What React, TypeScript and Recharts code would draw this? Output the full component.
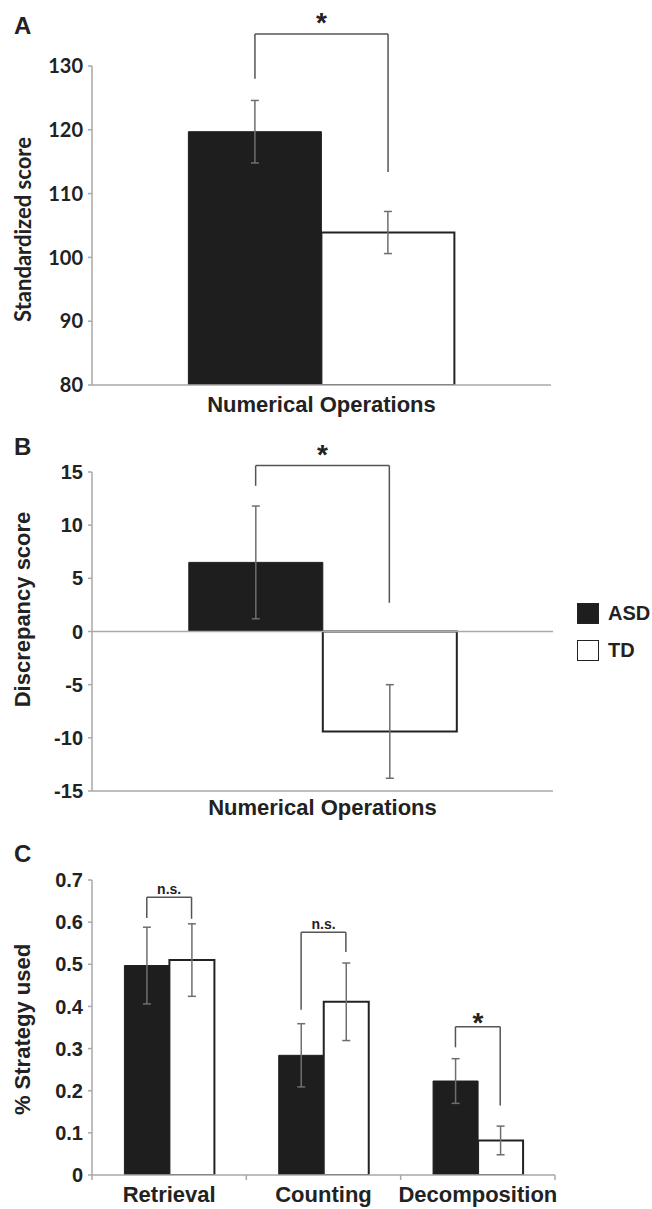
import { BarChart, Bar, XAxis, YAxis, ErrorBar, ReferenceLine, Legend } from "recharts"

const ARIAL = "'Liberation Sans', Arial, sans-serif"
const CALIBRI = "Lato, 'Liberation Sans', sans-serif"
const INK = "#222222"
const AXIS = "#a9a9a9"
const WHISKER = "#6e6e6e"
const BRACKET = "#555555"
const ASD_FILL = "#1e1e1e"
const TD_FILL = "#ffffff"
const GAP = 0.21

// A - standardized score
const opsCategories = ["Numerical Operations"]
const standardAsd = [119.7]
const standardAsdErr = [4.9]
const standardTd = [103.9]
const standardTdErr = [3.3]
const standardTicks = [80, 90, 100, 110, 120, 130]
const standardBrackets = [{ top: 135, left: 128, right: 113.4, mark: "*" }]

// B - discrepancy score
const discrepancyAsd = [6.5]
const discrepancyAsdErr = [5.3]
const discrepancyTd = [-9.4]
const discrepancyTdErr = [4.4]
const discrepancyTicks = [-15, -10, -5, 0, 5, 10, 15]
const discrepancyBrackets = [{ top: 15.6, left: 13.7, right: 2.7, mark: "*" }]

// C - strategy use
const strategies = ["Retrieval", "Counting", "Decomposition"]
const strategyAsd = [0.497, 0.284, 0.223]
const strategyAsdErr = [0.091, 0.075, 0.053]
const strategyTd = [0.51, 0.411, 0.082]
const strategyTdErr = [0.086, 0.092, 0.034]
const strategyTicks = [0, 0.1, 0.2, 0.3, 0.4, 0.5, 0.6, 0.7]
const strategyBrackets = [
  { top: 0.659, left: 0.61, right: 0.608, mark: "n.s." },
  { top: 0.576, left: 0.392, right: 0.529, mark: "n.s." },
  { top: 0.352, left: 0.303, right: 0.165, mark: "*" },
]

type Bracket = { top: number; left: number; right: number; mark: string }

// slot = middle of the category on a 0..n numeric axis
function buildRows(names: string[], asd: number[], asdErr: number[], td: number[], tdErr: number[]) {
  return names.map((name, i) => ({ name, slot: i + 0.5, asd: asd[i], asdErr: asdErr[i], td: td[i], tdErr: tdErr[i] }))
}

function CategoryTick(props: any) {
  const { x, y, payload, names, gap, boundaries } = props
  const v = payload.value
  if (Number.isInteger(v)) {
    if (!boundaries) return <g />
    return <line x1={x} y1={y} x2={x} y2={y + 5} stroke={AXIS} strokeWidth={1.5} />
  }
  return (
    <text x={x} y={y + gap + 16} textAnchor="middle" fill={INK} fontSize={22} fontWeight={700} fontFamily={ARIAL}>
      {names[Math.floor(v)]}
    </text>
  )
}

function YTitle(props: any) {
  const { viewBox, text, cx, shift, family } = props
  const x = viewBox.x + cx
  const y = viewBox.y + viewBox.height / 2 + shift
  return (
    <text
      x={x}
      y={y}
      transform={`rotate(-90 ${x} ${y})`}
      textAnchor="middle"
      dominantBaseline="central"
      fill={INK}
      fontSize={22}
      fontWeight={700}
      fontFamily={family}
    >
      {text}
    </text>
  )
}

function LegendBoxes({ payload }: any) {
  return (
    <div style={{ display: "flex", flexDirection: "column", gap: 15 }}>
      {(payload || []).map((e: any) => (
        <div
          key={e.value}
          style={{ display: "flex", alignItems: "center", gap: 9, height: 22, fontFamily: ARIAL, fontWeight: 700, fontSize: 20, color: INK }}
        >
          <span
            style={{
              display: "inline-block",
              width: 20,
              height: 19,
              background: e.value === "ASD" ? ASD_FILL : TD_FILL,
              border: `1.5px solid ${INK}`,
            }}
          />
          {e.value}
        </div>
      ))}
    </div>
  )
}

function bracketLines(list: Bracket[], markOffset: number) {
  const half = (1 - 2 * GAP) / 4
  return list.flatMap((s, i) => {
    const l = i + GAP + half
    const r = i + 1 - GAP - half
    const star = s.mark === "*"
    return [
      <ReferenceLine key={`l${i}`} xAxisId="pos" ifOverflow="visible" stroke={BRACKET} strokeWidth={1.5}
        segment={[{ x: l, y: s.left }, { x: l, y: s.top }]} />,
      <ReferenceLine key={`t${i}`} xAxisId="pos" ifOverflow="visible" stroke={BRACKET} strokeWidth={1.5}
        segment={[{ x: l, y: s.top }, { x: r, y: s.top }]}
        label={{
          value: s.mark,
          position: "top",
          offset: star ? markOffset : 3,
          fill: INK,
          fontSize: star ? 28 : 14,
          fontWeight: 700,
          fontFamily: ARIAL,
        }} />,
      <ReferenceLine key={`r${i}`} xAxisId="pos" ifOverflow="visible" stroke={BRACKET} strokeWidth={1.5}
        segment={[{ x: r, y: s.right }, { x: r, y: s.top }]} />,
    ]
  })
}

type PanelProps = {
  top: number
  height: number
  margin: { top: number; right: number; bottom: number; left: number }
  axisHeight: number
  names: string[]
  rows: any[]
  domain: [number, number]
  ticks: number[]
  tickFont: string
  title: string
  titleFont: string
  titleShift: number
  brackets: Bracket[]
  markOffset: number
  labelGap: number
  boundaries?: boolean
  zeroLine?: boolean
  legend?: boolean
}

function Panel(p: PanelProps) {
  const n = p.names.length
  const posTicks = p.boundaries
    ? Array.from({ length: 2 * n + 1 }, (_, k) => k / 2)
    : p.names.map((_, i) => i + 0.5)
  return (
    <div style={{ position: "absolute", left: 0, top: p.top }}>
      <BarChart width={652} height={p.height} data={p.rows} margin={p.margin} barCategoryGap={`${GAP * 100}%`} barGap={0}>
        <XAxis xAxisId="cat" dataKey="name" hide height={0} />
        <XAxis
          xAxisId="pos"
          dataKey="slot"
          type="number"
          domain={[0, n]}
          allowDataOverflow
          ticks={posTicks}
          interval={0}
          tickLine={false}
          tickSize={0}
          tickMargin={0}
          height={p.axisHeight}
          axisLine={{ stroke: AXIS, strokeWidth: 1.5 }}
          tick={<CategoryTick names={p.names} gap={p.labelGap} boundaries={p.boundaries} />}
        />
        <YAxis
          domain={p.domain}
          ticks={p.ticks}
          allowDataOverflow
          interval={0}
          width={92}
          tickSize={4}
          tickMargin={5}
          tickLine={{ stroke: AXIS, strokeWidth: 1.5 }}
          axisLine={{ stroke: AXIS, strokeWidth: 1.5 }}
          tick={{ fill: INK, fontSize: 20, fontWeight: 700, fontFamily: p.tickFont }}
          label={<YTitle text={p.title} cx={22} shift={p.titleShift} family={p.titleFont} />}
        />
        {p.zeroLine && <ReferenceLine xAxisId="pos" y={0} stroke={AXIS} strokeWidth={1.5} />}
        <Bar xAxisId="cat" dataKey="asd" name="ASD" fill={ASD_FILL} stroke={ASD_FILL} strokeWidth={1} isAnimationActive={false}>
          <ErrorBar dataKey="asdErr" direction="y" width={4} stroke={WHISKER} strokeWidth={1.5} isAnimationActive={false} />
        </Bar>
        <Bar xAxisId="cat" dataKey="td" name="TD" fill={TD_FILL} stroke={INK} strokeWidth={2} isAnimationActive={false}>
          <ErrorBar dataKey="tdErr" direction="y" width={4} stroke={WHISKER} strokeWidth={1.5} isAnimationActive={false} />
        </Bar>
        {bracketLines(p.brackets, p.markOffset)}
        {p.legend && (
          <Legend
            layout="vertical"
            align="center"
            verticalAlign="middle"
            wrapperStyle={{ left: 577, top: 202, width: 75 }}
            content={<LegendBoxes />}
          />
        )}
      </BarChart>
    </div>
  )
}

const letterStyle = {
  position: "absolute" as const,
  left: 14,
  fontFamily: ARIAL,
  fontWeight: 700,
  fontSize: 24,
  lineHeight: "24px",
  color: INK,
}

export default function App() {
  return (
    <div style={{ position: "absolute", left: 0, top: 0, width: 652, height: 1209, background: "#fff" }}>
      <Panel
        top={0}
        height={420}
        margin={{ top: 66, right: 101, bottom: 5, left: 0 }}
        axisHeight={30}
        names={opsCategories}
        rows={buildRows(opsCategories, standardAsd, standardAsdErr, standardTd, standardTdErr)}
        domain={[80, 130]}
        ticks={standardTicks}
        tickFont={CALIBRI}
        title="Standardized score"
        titleFont={CALIBRI}
        titleShift={4}
        brackets={standardBrackets}
        markOffset={2}
        labelGap={11}
      />
      <Panel
        top={400}
        height={420}
        margin={{ top: 72, right: 99, bottom: 2, left: 0 }}
        axisHeight={27}
        names={opsCategories}
        rows={buildRows(opsCategories, discrepancyAsd, discrepancyAsdErr, discrepancyTd, discrepancyTdErr)}
        domain={[-15, 15]}
        ticks={discrepancyTicks}
        tickFont={ARIAL}
        title="Discrepancy  score"
        titleFont={ARIAL}
        titleShift={-22}
        brackets={discrepancyBrackets}
        markOffset={2}
        labelGap={8}
        zeroLine
        legend
      />
      <Panel
        top={820}
        height={389}
        margin={{ top: 60, right: 97, bottom: 2, left: 0 }}
        axisHeight={32}
        names={strategies}
        rows={buildRows(strategies, strategyAsd, strategyAsdErr, strategyTd, strategyTdErr)}
        domain={[0, 0.7]}
        ticks={strategyTicks}
        tickFont={ARIAL}
        title="% Strategy used"
        titleFont={ARIAL}
        titleShift={2}
        brackets={strategyBrackets}
        markOffset={-5}
        labelGap={11}
        boundaries
      />
      <div style={{ ...letterStyle, top: 14 }}>A</div>
      <div style={{ ...letterStyle, top: 435 }}>B</div>
      <div style={{ ...letterStyle, top: 842 }}>C</div>
    </div>
  )
}
